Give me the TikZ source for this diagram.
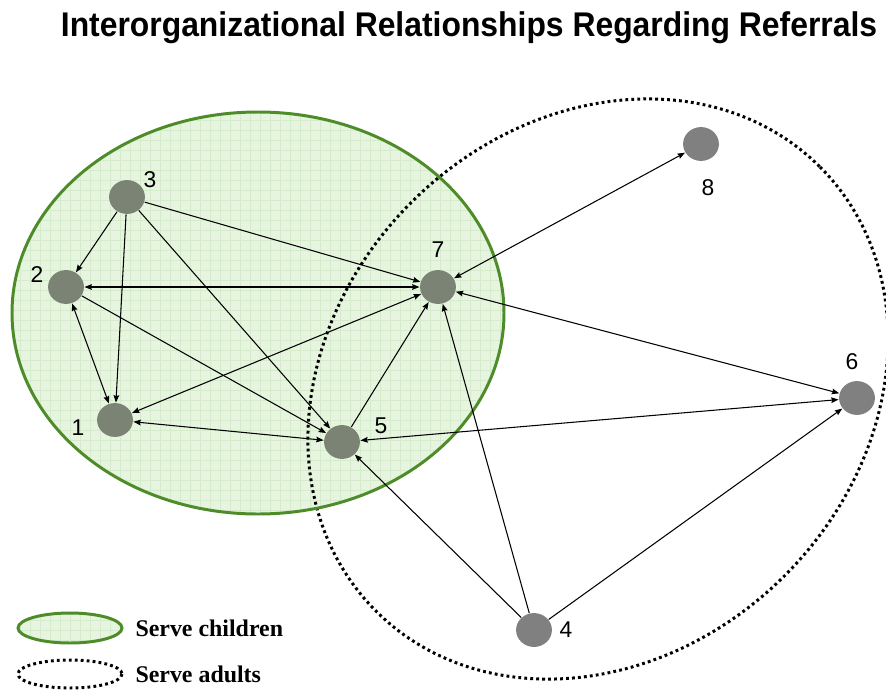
\documentclass[tikz,border=0pt]{standalone}
\usepackage{fontspec}
\usepackage{graphicx}
\setmainfont{Liberation Sans}
\newfontfamily\legendfont{Liberation Serif}
\usetikzlibrary{arrows.meta,shapes.geometric}

\definecolor{kidgreen}{RGB}{78,140,42}
\definecolor{kidfill}{RGB}{230,244,224}
\definecolor{kidgrid}{RGB}{212,236,203}
\definecolor{orggray}{RGB}{128,128,128}
\definecolor{orggreen}{RGB}{122,131,116}

\newlength\unitpx
\setlength\unitpx{0.56693pt}
\tikzset{
  org/.style={ellipse, fill=orggray, draw=none, minimum width=36\unitpx, minimum height=34\unitpx, inner sep=0pt},
  orgkid/.style={org, fill=orggreen},
  num/.style={font=\fontsize{13pt}{13pt}\selectfont, inner sep=0pt},
  adults/.style={line width=1.7pt, dash pattern=on 1.6pt off 1.8pt},
  kids/.style={draw=kidgreen, line width=1.7pt},
  legendtext/.style={anchor=west, font=\legendfont\bfseries\fontsize{13.6pt}{14pt}\selectfont, inner sep=0pt}
}

\begin{document}
\begin{tikzpicture}[x=0.02cm, y=-0.02cm, >={Stealth[length=4.2pt,width=3.2pt,inset=0.5pt]}, line width=0.6pt]
  \useasboundingbox (0,0) rectangle (886,690);

  % title
  \node (title) at (469,28) {\scalebox{0.93}[1]{\bfseries\fontsize{19.5pt}{19.5pt}\selectfont Interorganizational Relationships Regarding Referrals}};

  % serve children
  \begin{scope}
    \clip (258,313) ellipse [x radius=246, y radius=201];
    \fill[kidfill] (0,100) rectangle (520,520);
    \draw[kidgrid, line width=0.3pt, step=0.2cm] (0,100) grid (520,520);
  \end{scope}
  % serve adults
  \draw[adults, rotate around={45:(598,389)}] (598,389) ellipse [x radius=314, y radius=264];
  \draw[kids] (258,313) ellipse [x radius=246, y radius=201];

  % organisations
  \node[orgkid] (n3) at (127,197) {};
  \node[orgkid] (n2) at (66,287) {};
  \node[orgkid] (n1) at (115,420) {};
  \node[orgkid] (n5) at (342,442) {};
  \node[orgkid] (n7) at (438,287) {};
  \node[org] (n8) at (701,144) {};
  \node[org] (n6) at (857,398) {};
  \node[org] (n4) at (534,630) {};

  \node[num] (l3) at (150,180) {3};
  \node[num] (l2) at (37,275) {2};
  \node[num] (l1) at (78,428) {1};
  \node[num] (l5) at (381,426) {5};
  \node[num] (l7) at (438,250) {7};
  \node[num] (l8) at (708,188) {8};
  \node[num] (l6) at (852,362) {6};
  \node[num] (l4) at (566,630) {4};

  \path[->]
    (n3) edge (n2)
         edge (n1)
         edge (n7)
         edge (n5)
    (n2) edge (n5)
    (n5) edge (n7)
    (n4) edge (n5)
         edge (n7)
         edge (n6);
  \path[<->]
    (n2) edge (n7)
         edge (n1)
    (n1) edge (n7)
         edge (n5)
    (n5) edge (n6)
    (n7) edge (n8)
         edge (n6);

  % legend
  \begin{scope}
    \clip (70,628) ellipse [x radius=52, y radius=15];
    \fill[kidfill] (10,600) rectangle (130,650);
    \draw[kidgrid, line width=0.3pt, step=0.2cm] (10,600) grid (130,650);
  \end{scope}
  \draw[kids] (70,628) ellipse [x radius=52, y radius=15];
  \node[legendtext] (kidtext) at (135,628) {Serve children};
  \draw[adults] (70,674) ellipse [x radius=52, y radius=14];
  \node[legendtext] (adulttext) at (135,674) {Serve adults};
\end{tikzpicture}
\end{document}
